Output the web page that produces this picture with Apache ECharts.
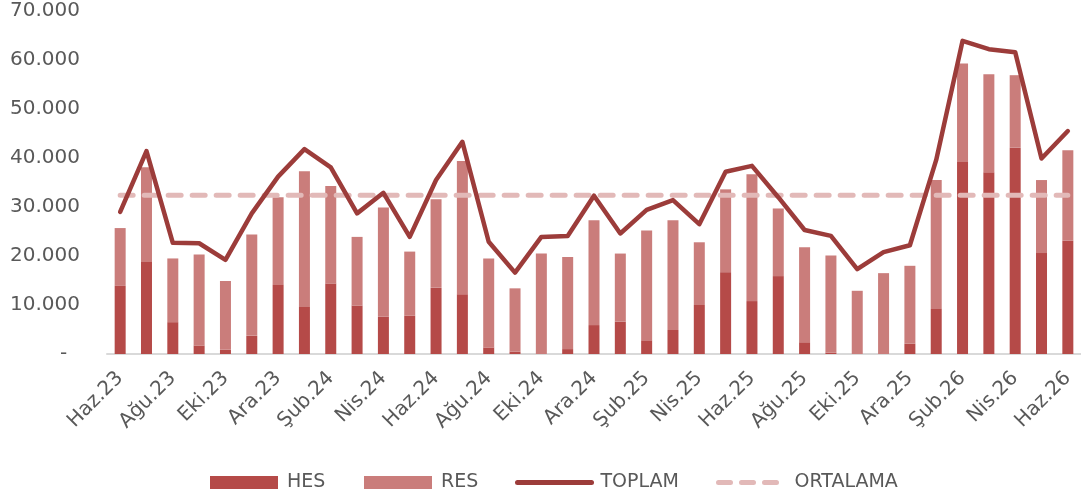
<!DOCTYPE html>
<html>
<head>
<meta charset="utf-8">
<script src="https://cdn.jsdelivr.net/npm/echarts@6/dist/echarts.min.js"></script>
<style>
html, body { margin: 0; padding: 0; background: #fff; }
#container { width: 1081px; height: 497px; }
</style>
</head>
<body>
<div id="container"></div>
<script>
var dom = document.getElementById("container");
var myChart = echarts.init(dom);

// aylar
var months = ['Haz.23','Tem.23','Ağu.23','Eyl.23','Eki.23','Kas.23','Ara.23',
    'Oca.24','Şub.24','Mar.24','Nis.24','May.24','Haz.24','Tem.24','Ağu.24','Eyl.24','Eki.24','Kas.24','Ara.24',
    'Oca.25','Şub.25','Mar.25','Nis.25','May.25','Haz.25','Tem.25','Ağu.25','Eyl.25','Eki.25','Kas.25','Ara.25',
    'Oca.26','Şub.26','Mar.26','Nis.26','May.26','Haz.26'];

var hes = [13900,18800,6500,1700,900,3700,14100,9600,14400,9900,7600,7800,13500,12200,1300,500,0,1000,5900,
    6600,2800,4900,10000,16700,10800,15900,2400,300,0,0,2100,9200,39200,37100,42100,20600,23100];

var res = [11800,19300,13000,18600,14000,20700,17900,27700,19900,14000,22300,13100,18100,27200,18200,12900,20500,18800,21400,
    13900,22400,22400,12800,16900,25900,13800,19400,19800,12900,16500,15900,26300,20100,20000,14800,14900,18500];

var toplam = [29000,41400,22700,22600,19200,28700,36200,41800,38100,28700,32900,23900,35500,43300,22900,16600,23900,24100,32300,
    24600,29400,31400,26500,37200,38400,32000,25300,24100,17300,20800,22200,39600,63900,62200,61600,39900,45500];

var ortalama = [32400,32400,32400,32400,32400,32400,32400,32400,32400,32400,32400,32400,32400,32400,32400,32400,32400,32400,32400,
    32400,32400,32400,32400,32400,32400,32400,32400,32400,32400,32400,32400,32400,32400,32400,32400,32400,32400];

var textColor = '#595959';
var font = 'DejaVu Sans';
var cHes = '#b54a48', cRes = '#ca7d7b', cTop = '#9c3c3a', cOrt = '#e2b9b8';

// her lejant ogesi ayri konumlanir
function legendItem(item, left, w) {
    return {
        data: [item],
        left: left,
        top: 473,
        padding: 0,
        itemWidth: w,
        itemHeight: 13,
        textStyle: {
            color: textColor,
            fontFamily: font,
            fontSize: 19,
            padding: [0, 0, 0, 4]
        }
    };
}

var option = {
    animation: false,
    grid: {
        left: 107,
        top: 11,
        width: 978,
        bottom: 143,
        containLabel: false
    },
    legend: [
        legendItem({ name: 'HES', icon: 'rect' }, 210, 68),
        legendItem({ name: 'RES', icon: 'rect' }, 364, 68),
        legendItem({
            name: 'TOPLAM',
            itemStyle: { opacity: 0 },
            lineStyle: { width: 5, cap: 'round' }
        }, 515, 74),
        legendItem({
            name: 'ORTALAMA',
            itemStyle: { opacity: 0 },
            lineStyle: { width: 5, type: [12, 11], cap: 'round', dashOffset: -3 }
        }, 713, 70)
    ],
    xAxis: {
        type: 'category',
        data: months,
        axisLine: {
            lineStyle: { color: '#d9d9d9', width: 2 }
        },
        axisTick: {
            interval: 1,
            length: 8,
            lineStyle: { color: '#d9d9d9', width: 2 }
        },
        axisLabel: {
            interval: 1,
            rotate: 45,
            margin: 21,
            color: textColor,
            fontFamily: font,
            fontSize: 20
        },
        splitLine: { show: false }
    },
    yAxis: {
        type: 'value',
        min: 0,
        max: 70000,
        interval: 10000,
        axisLine: { show: false },
        axisTick: { show: false },
        splitLine: { show: false },
        axisLabel: {
            margin: 27,
            color: textColor,
            fontFamily: font,
            fontSize: 20,
            formatter: function (v) {
                if (v === 0) return '-  ';
                return (v / 1000) + '.000';
            }
        }
    },
    series: [{
        name: 'HES',
        type: 'bar',
        stack: 'uretim',
        barWidth: 11,
        itemStyle: { color: cHes },
        data: hes,
        z: 2
    }, {
        name: 'RES',
        type: 'bar',
        stack: 'uretim',
        barWidth: 11,
        itemStyle: { color: cRes },
        data: res,
        z: 2
    }, {
        name: 'ORTALAMA',
        type: 'line',
        symbol: 'none',
        data: ortalama,
        lineStyle: {
            color: cOrt,
            width: 5,
            type: [13, 11],
            cap: 'round'
        },
        itemStyle: { color: cOrt },
        z: 3
    }, {
        name: 'TOPLAM',
        type: 'line',
        symbol: 'none',
        data: toplam,
        lineStyle: {
            color: cTop,
            width: 4.5,
            join: 'round',
            cap: 'round'
        },
        itemStyle: { color: cTop },
        z: 4
    }]
};

if (option && typeof option === "object") {
    myChart.setOption(option, true);
}
</script>
</body>
</html>
